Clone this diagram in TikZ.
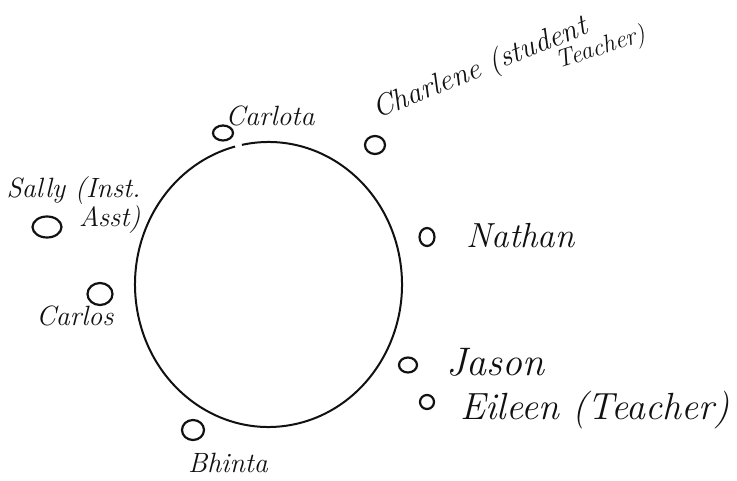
\documentclass[tikz,border=0pt]{standalone}
\usepackage{fontspec}
\usetikzlibrary{shapes.geometric}

\begin{document}
\begin{tikzpicture}[x=1bp, y=-1bp, thick]

  % Colors
  \definecolor{ink}{HTML}{111111}

  \def\tcx{268.5} % table centre x
  \def\tcy{284.5} % table centre y
  \def\trx{133.5} % table radius x
  \def\try{142.5} % table radius y

  \tikzset{
    seat/.style={draw=ink, line width=2.2bp, ellipse, inner sep=0pt},
    kidname/.style={text=ink, font=\itshape\fontsize{28}{26}\selectfont, inner sep=0pt},
    widename/.style={kidname, font=\itshape\fontsize{#1}{30}\selectfont},
    widename/.default=35
  }

  \useasboundingbox (0,0) rectangle (737,481);

  % The table: one ellipse, with a small gap near the top
  \coordinate (table) at (\tcx,\tcy);
  \draw[ink, line width=2bp] ({\tcx+\trx*cos(258.5)}, {\tcy+\try*sin(258.5)})
    arc[start angle=258.5, end angle=615.5, x radius=\trx, y radius=\try];

  % Seats round the table
  \foreach \nm/\px/\py/\w/\h in {
    carlota/223/133/20/15, charlene/375/145/20/18,
    sally/47/227/29/21,    carlos/100/294/25/22,
    nathan/427/237/15/18,  jason/408/365/18/15,
    eileen/427/402/14/14,  bhinta/193/430/22/20}
  {
    \node[seat, minimum width=\w bp, minimum height=\h bp] (seat-\nm) at (\px,\py) {};
  }

  % Names
  \node[kidname] (name-carlota) at (270,116) {Carlota};
  \node[kidname, font=\itshape\fontsize{30}{26}\selectfont, rotate=22, anchor=base west]
    (name-charlene) at (377,119) {Charlene (student};
  \node[kidname, font=\itshape\fontsize{25}{26}\selectfont, rotate=18, anchor=base west]
    (name-charlene2) at (558,69) {Teacher)};
  \node[kidname, align=right, anchor=east] (name-sally) at (141,205) {Sally (Inst.\\Asst)};
  \node[kidname] (name-carlos) at (75,316) {Carlos};
  \node[widename, anchor=west] (name-nathan) at (466,236) {Nathan};
  \node[widename=40, anchor=west] (name-jason) at (446,362) {Jason};
  \node[widename=38, anchor=west] (name-eileen) at (460,410) {Eileen (Teacher)};
  \node[kidname] (name-bhinta) at (228,463) {Bhinta};

\end{tikzpicture}
\end{document}
